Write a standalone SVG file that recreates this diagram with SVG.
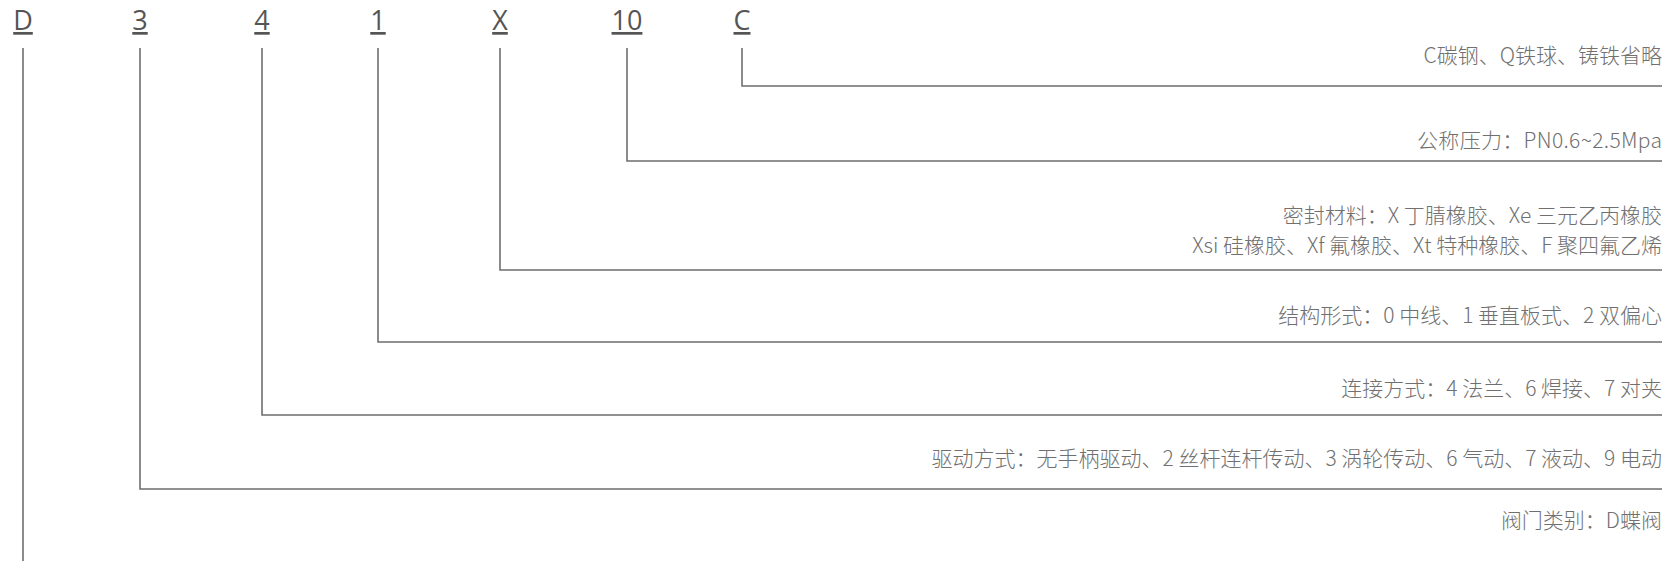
<svg xmlns="http://www.w3.org/2000/svg" width="1677" height="561" viewBox="0 0 1677 561">
<style>
.code{font-family:"Open Sans","Noto Sans","Liberation Sans",sans-serif;font-size:27px;fill:#555;text-decoration:underline;text-anchor:middle}
.lbl{font-family:"Noto Sans CJK SC","Noto Sans",sans-serif;font-size:21px;font-weight:300;fill:#707070;text-anchor:end}
.ln{fill:none;stroke:#6e6e6e;stroke-width:1.6}
</style>
<rect width="1677" height="561" fill="#fff"/>
<g id="connectors">
<path class="ln" d="M23 48V561"/>
<path class="ln" d="M140 48V489H1662"/>
<path class="ln" d="M262 48V415H1662"/>
<path class="ln" d="M378 48V342H1662"/>
<path class="ln" d="M500 48V270H1662"/>
<path class="ln" d="M627 48V161H1662"/>
<path class="ln" d="M742 48V86H1662"/>
</g>
<g id="node-D"><text class="code" x="23" y="30">D</text><text class="lbl" x="1662" y="528">阀门类别：D蝶阀</text></g>
<g id="node-3"><text class="code" x="140" y="30">3</text><text class="lbl" x="1662" y="466">驱动方式：无手柄驱动、2 丝杆连杆传动、3 涡轮传动、6 气动、7 液动、9 电动</text></g>
<g id="node-4"><text class="code" x="262" y="30">4</text><text class="lbl" x="1662" y="396">连接方式：4 法兰、6 焊接、7 对夹</text></g>
<g id="node-1"><text class="code" x="378" y="30">1</text><text class="lbl" x="1662" y="323">结构形式：0 中线、1 垂直板式、2 双偏心</text></g>
<g id="node-X"><text class="code" x="500" y="30">X</text><text class="lbl" x="1662" y="223">密封材料：X 丁腈橡胶、Xe 三元乙丙橡胶</text><text class="lbl" x="1662" y="253">Xsi 硅橡胶、Xf 氟橡胶、Xt 特种橡胶、F 聚四氟乙烯</text></g>
<g id="node-10"><text class="code" x="627" y="30">10</text><text class="lbl" x="1662" y="148" textLength="245">公称压力：PN0.6~2.5Mpa</text></g>
<g id="node-C"><text class="code" x="742" y="30">C</text><text class="lbl" x="1662" y="63">C碳钢、Q铁球、铸铁省略</text></g>
</svg>
